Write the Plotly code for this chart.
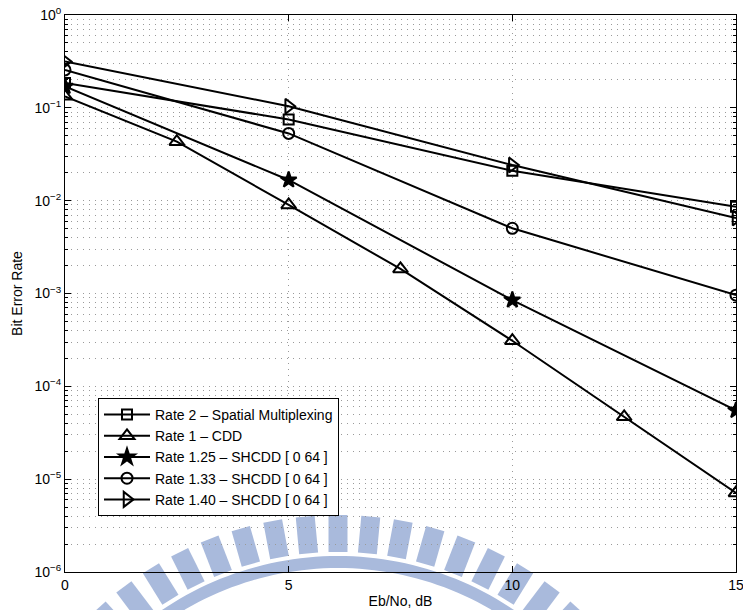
import math
import plotly.graph_objects as go

# Eb/No sweep points (dB)
snr_db = [0, 5, 10, 15]
snr_db_cdd = [0, 2.5, 5, 7.5, 10, 12.5, 15]

# Bit error rate per scheme
ber_sm = [0.185, 0.075, 0.021, 0.0086]
ber_cdd = [0.133, 0.0432, 0.0090, 0.00184, 3.1e-4, 4.7e-5, 7.1e-6]
ber_shcdd_125 = [0.17, 0.0167, 8.5e-4, 5.5e-5]
ber_shcdd_133 = [0.256, 0.053, 0.00504, 9.6e-4]
ber_shcdd_140 = [0.315, 0.104, 0.0242, 0.0065]

series_names = [
    "Rate 2 – Spatial Multiplexing",
    "Rate 1 – CDD",
    "Rate 1.25 – SHCDD [ 0 64 ]",
    "Rate 1.33 – SHCDD [ 0 64 ]",
    "Rate 1.40 – SHCDD [ 0 64 ]",
]

x_tick_values = [0, 5, 10, 15]
x_tick_labels = ["0", "5", "10", "15"]
y_tick_values = [1e-6, 1e-5, 1e-4, 1e-3, 1e-2, 1e-1, 1e0]
y_tick_labels = ["10<sup>−6</sup>", "10<sup>−5</sup>", "10<sup>−4</sup>",
                 "10<sup>−3</sup>", "10<sup>−2</sup>", "10<sup>−1</sup>",
                 "10<sup>0</sup>"]

FONT = "Liberation Sans, Arial, Helvetica, sans-serif"
W, H = 743, 610
ML, MR, MT, MB = 65, 7, 15, 38
PW, PH = W - ML - MR, H - MT - MB
GRID = "#9a9a9a"
DOTS = "1px,5px"
WM_COLOR = "#a9badc"

fig = go.Figure()

styles = [
    (snr_db, ber_sm, "square-open", 10),
    (snr_db_cdd, ber_cdd, "triangle-up-open", 13),
    (snr_db, ber_shcdd_125, "star", 12),
    (snr_db, ber_shcdd_133, "circle-open", 11),
    (snr_db, ber_shcdd_140, "triangle-right-open", 13),
]
for name, (xs, ys, sym, size) in zip(series_names, styles):
    fig.add_trace(go.Scatter(
        x=xs, y=ys, name=name, mode="lines+markers",
        line=dict(color="black", width=2),
        marker=dict(symbol=sym, size=size, color="black",
                    line=dict(color="black", width=2)),
    ))


# Background emblem: a ring of teeth above a curved band
def to_paper(px, py):
    return (px - ML) / PW, (H - MB - py) / PH


def path_from(points):
    pts = [to_paper(px, py) for px, py in points]
    return "M " + " L ".join(f"{x:.5f},{y:.5f}" for x, y in pts) + " Z"


cx, cy = 338.0, 870.0
r_band_in, r_band_out = 302.0, 314.0
r_tooth_in, r_tooth_out = 318.0, 355.0
tooth_w = 19.0
step = 5.3

shapes = []
for k in range(-10, 11):
    a = math.radians(k * step)
    ux, uy = math.sin(a), -math.cos(a)
    tx, ty = math.cos(a), math.sin(a)
    corners = []
    for r, s in ((r_tooth_in, -1), (r_tooth_out, -1), (r_tooth_out, 1), (r_tooth_in, 1)):
        corners.append((cx + r * ux + s * tooth_w / 2 * tx,
                        cy + r * uy + s * tooth_w / 2 * ty))
    shapes.append(dict(type="path", xref="paper", yref="paper",
                       path=path_from(corners), fillcolor=WM_COLOR,
                       line=dict(width=0), layer="below"))

band = []
n = 80
for i in range(n + 1):
    a = math.radians(-55 + 110 * i / n)
    band.append((cx + r_band_out * math.sin(a), cy - r_band_out * math.cos(a)))
for i in range(n, -1, -1):
    a = math.radians(-55 + 110 * i / n)
    band.append((cx + r_band_in * math.sin(a), cy - r_band_in * math.cos(a)))
shapes.append(dict(type="path", xref="paper", yref="paper",
                   path=path_from(band), fillcolor=WM_COLOR,
                   line=dict(width=0), layer="below"))

minor_y = [m * 10 ** e for e in range(-6, 0) for m in range(2, 10)]

fig.update_layout(
    width=W, height=H,
    margin=dict(l=ML, r=MR, t=MT, b=MB, autoexpand=False),
    paper_bgcolor="white",
    plot_bgcolor="rgba(0,0,0,0)",
    font=dict(family=FONT, size=14, color="black"),
    shapes=shapes,
    showlegend=True,
    legend=dict(
        x=(98 - ML) / PW, y=(H - MB - 398) / PH,
        xanchor="left", yanchor="top",
        bgcolor="white", bordercolor="black", borderwidth=1,
        font=dict(family=FONT, size=14, color="black"),
        itemwidth=46,
        tracegroupgap=0,
    ),
    xaxis=dict(
        range=[0, 15], automargin=False, ticklabeloverflow="allow",
        tickmode="array", tickvals=x_tick_values, ticktext=x_tick_labels,
        ticks="inside", ticklen=6, tickcolor="black",
        showline=True, linecolor="black", linewidth=1, mirror="ticks",
        showgrid=True, gridcolor=GRID, gridwidth=1, griddash=DOTS,
        zeroline=False,
        tickfont=dict(size=14),
        title=dict(text="Eb/No, dB", standoff=4, font=dict(size=14)),
    ),
    yaxis=dict(
        type="log", range=[-6, 0], automargin=False, ticklabeloverflow="allow",
        tickmode="array", tickvals=y_tick_values, ticktext=y_tick_labels,
        ticks="inside", ticklen=6, tickcolor="black",
        showline=True, linecolor="black", linewidth=1, mirror="ticks",
        showgrid=True, gridcolor=GRID, gridwidth=1, griddash=DOTS,
        zeroline=False,
        tickfont=dict(size=14),
        minor=dict(tickmode="array", tickvals=minor_y, ticks="inside",
                   ticklen=3, tickcolor="black", showgrid=True,
                   gridcolor=GRID, gridwidth=1, griddash=DOTS),
        title=dict(text="Bit Error Rate", standoff=8, font=dict(size=14)),
    ),
)

fig.write_html("out.html")
